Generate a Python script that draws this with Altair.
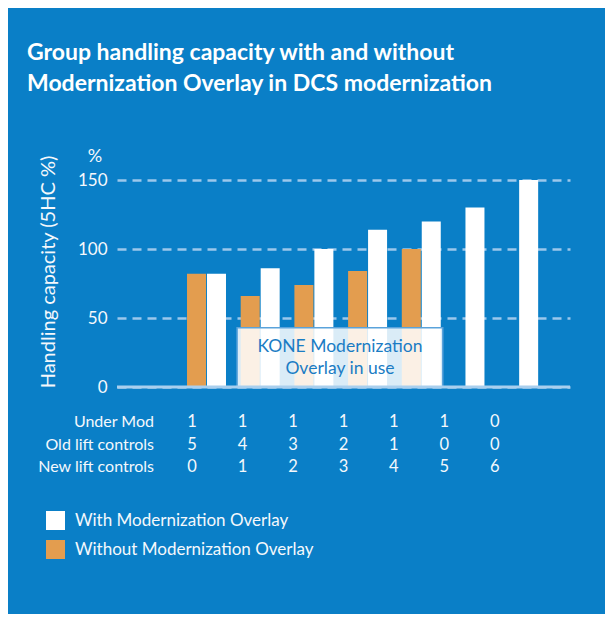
import altair as alt
import pandas as pd

# ---- data ----
groups = [0, 1, 2, 3, 4, 5, 6]
with_overlay = [82, 86, 100, 114, 120, 130, 150]
without_overlay = [82, 66, 74, 84, 100, None, None]
under_mod = [1, 1, 1, 1, 1, 1, 0]
old_lift = [5, 4, 3, 2, 1, 0, 0]
new_lift = [0, 1, 2, 3, 4, 5, 6]
row_labels = ["Under Mod", "Old lift controls", "New lift controls"]
series_names = ["With Modernization Overlay", "Without Modernization Overlay"]
y_ticks = [0, 50, 100, 150]
box_text = ["KONE Modernization", "Overlay in use"]
box_groups = [1, 4]      # groups covered by the annotation box
box_top = [43]           # annotation box height in %
title_lines = ["Group handling capacity with and without",
               "Modernization Overlay in DCS modernization"]

BG = "#0A7FC7"
ORANGE = "#E39D4F"
FONT = "Lato"
TXT = "#f4f8fc"

rows = []
for k, w, wo in zip(groups, with_overlay, without_overlay):
    paired = wo is not None
    if paired:
        rows.append(dict(k=k, series=series_names[1], value=wo, paired=True))
    rows.append(dict(k=k, series=series_names[0], value=w, paired=paired))
bars_df = pd.DataFrame(rows)

xscale = alt.Scale(domain=[-1.667, 6.77], nice=False, zero=False)
yscale = alt.Scale(domain=[0, 150], nice=False)

bars = alt.Chart(bars_df).transform_calculate(
    x1=f"datum.series == '{series_names[1]}' ? datum.k - 0.363 : (datum.paired ? datum.k + 0.009 : datum.k - 0.177)",
    zero="0",
).transform_calculate(
    x2="datum.x1 + 0.354"
).mark_rect().encode(
    x=alt.X("x1:Q", scale=xscale, axis=None),
    x2="x2:Q",
    y=alt.Y("value:Q", scale=yscale,
            axis=alt.Axis(values=y_ticks, title="Handling capacity (5HC %)",
                          titleAngle=270, titleX=-69, titleY=91.5, titleAlign="center",
                          titleBaseline="middle", titleFontSize=20, titleFont=FONT,
                          titleFontWeight="normal", titleColor=TXT,
                          labelFont=FONT, labelFontSize=17, labelColor=TXT,
                          labelPadding=10, ticks=False, domain=False,
                          grid=True, gridDash=[9, 6], gridColor="#9cc8ec",
                          gridWidth=2.5)),
    y2="zero:Q",
    color=alt.Color("series:N",
                    scale=alt.Scale(domain=series_names, range=["#ffffff", ORANGE]),
                    legend=alt.Legend(title=None, orient="none", legendX=-71, legendY=331,
                                      symbolType="square", symbolSize=361,
                                      symbolStrokeWidth=0, labelFont=FONT,
                                      labelFontSize=17, labelColor=TXT, labelLimit=0,
                                      labelOffset=10, rowPadding=10, padding=0,
                                      direction="vertical")),
)

box_df = pd.DataFrame({"g0": [box_groups[0]], "g1": [box_groups[1]], "top": box_top})
box = alt.Chart(box_df).transform_calculate(
    bx1="datum.g0 - 0.43", bx2="datum.g1 + 0.40", zero="0"
).mark_rect(fill="white", fillOpacity=0.85, stroke="#5aa3db", strokeWidth=1.5).encode(
    x=alt.X("bx1:Q", scale=xscale), x2="bx2:Q",
    y=alt.Y("top:Q", scale=yscale), y2="zero:Q",
)
box_label = alt.Chart(box_df).transform_calculate(
    cx="(datum.g0 + datum.g1) / 2 - 0.015"
).mark_text(text=box_text, font=FONT, fontSize=17.5, color="#1a7cc4",
            align="center", baseline="alphabetic", lineHeight=22).encode(
    x=alt.X("cx:Q", scale=xscale), y=alt.value(171.5),
)

baseline = alt.Chart(pd.DataFrame({"v": [0]})).mark_rule(
    color="#a9cfee", strokeWidth=3).encode(y=alt.Y("v:Q", scale=yscale))

pct = alt.Chart(pd.DataFrame({"t": ["%"]})).mark_text(
    font=FONT, fontSize=18, color=TXT, align="center", baseline="alphabetic"
).encode(text="t:N", x=alt.value(-22), y=alt.value(-18))

table_layers = []
row_y = [247, 269.5, 292]
for label, vals, yy in zip(row_labels, [under_mod, old_lift, new_lift], row_y):
    tdf = pd.DataFrame({"k": groups, "v": vals})
    table_layers.append(
        alt.Chart(tdf).transform_calculate(tx="datum.k * 0.94 - 0.27").mark_text(
            font=FONT, fontSize=16.5, color=TXT, align="center", baseline="alphabetic"
        ).encode(x=alt.X("tx:Q", scale=xscale), y=alt.value(yy), text="v:N")
    )
    table_layers.append(
        alt.Chart(pd.DataFrame({"t": [label]})).mark_text(
            font=FONT, fontSize=16, color=TXT, align="right", baseline="alphabetic"
        ).encode(x=alt.value(37), y=alt.value(yy), text="t:N")
    )

chart = alt.layer(bars, box, box_label, baseline, pct, *table_layers).properties(
    width=453, height=207,
    background=BG,
    padding={"left": 109, "top": 172, "right": 35, "bottom": 227},
    autosize=alt.AutoSizeParams(type="none"),
    title=alt.TitleParams(text=title_lines, anchor="start", frame="group",
                          font=FONT, fontSize=23, fontWeight="bold", color="white",
                          lineHeight=31, dx=-90, offset=52),
).configure_view(stroke=None)

chart.save("out.html", embed_options={"renderer": "svg", "actions": False})
